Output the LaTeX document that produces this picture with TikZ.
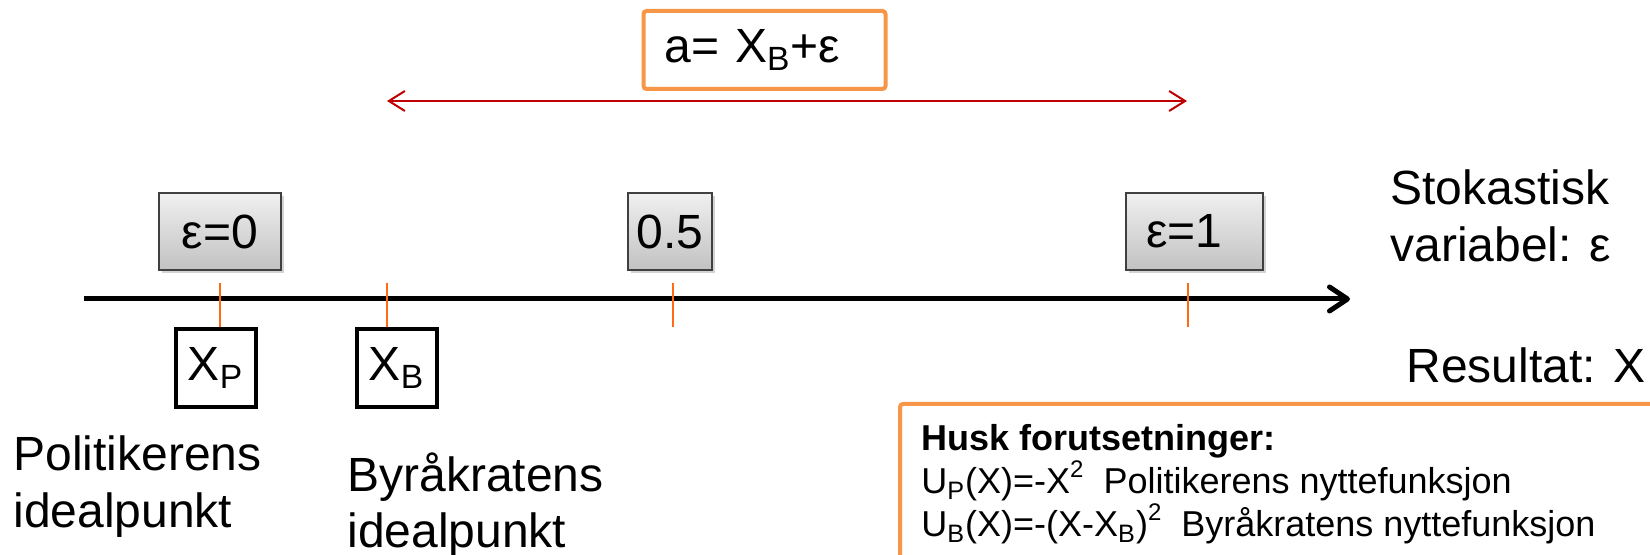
\documentclass[tikz,border=0pt]{standalone}
\usepackage{fontspec}
\setmainfont{Liberation Sans}
\usetikzlibrary{arrows.meta,shadows}
\definecolor{boxorange}{HTML}{F79646}
\definecolor{tickorange}{HTML}{FF6A13}
\definecolor{arrowred}{HTML}{C00000}
\tikzset{
  big/.style={font=\fontsize{24pt}{28.5pt}\selectfont, inner sep=0pt},
  small/.style={font=\fontsize{18pt}{21.5pt}\selectfont, inner sep=0pt},
  graybox/.style={draw=black!75, line width=0.6pt, top color=black!6, bottom color=black!24,
    drop shadow={opacity=0.35, shadow xshift=1.5pt, shadow yshift=-1.5pt},
    minimum height=38.5pt, inner sep=0pt, font=\fontsize{24pt}{28.5pt}\selectfont},
  xbox/.style={draw=black, line width=2pt, minimum width=40pt, minimum height=39pt,
    inner sep=0pt, font=\fontsize{24pt}{28.5pt}\selectfont},
  tickline/.style={draw=tickorange, line width=1pt},
}
\newcommand{\supsmall}[1]{\raisebox{0.45em}{\fontsize{12pt}{12pt}\selectfont #1}}
\begin{document}
\begin{tikzpicture}[x=0.5pt,y=-0.5pt]
\useasboundingbox (0,0) rectangle (1650,555);

% top formula box
\node[draw=boxorange, line width=2pt, rounded corners=1.5pt, minimum height=39pt,
  text width=100pt, align=left, inner xsep=10.5pt, inner ysep=0pt,
  font=\fontsize{24pt}{28.5pt}\selectfont] (formula) at (764.5,50) {a= X\textsubscript{B}+ε};

% red double arrow
\coordinate (rl) at (387,101);
\coordinate (rr) at (1187,101);
\draw[arrowred, line width=1pt, {Straight Barb[length=8pt,width=10pt]}-{Straight Barb[length=8pt,width=10pt]}] (rl) -- (rr);

% gray epsilon boxes
\node[graybox, minimum width=61pt] (e0) at (220,231.5) {ε=0};
\node[graybox, minimum width=42pt] (e05) at (670,231.5) {0.5};
\node[graybox, minimum width=68.5pt, text width=48.5pt, align=left, inner xsep=10pt] (e1) at (1194.5,231.5) {ε=1};

% axis
\coordinate (axs) at (84,299);
\coordinate (axe) at (1350,299);
\draw[line width=2.5pt, -{Straight Barb[length=9pt,width=12pt,line cap=round,line join=round]}] (axs) -- (axe);

% X boxes
\node[xbox] (xp) at (215.5,368) {X\textsubscript{P}};
\node[xbox] (xb) at (396.5,368) {X\textsubscript{B}};

% ticks
\coordinate (t0) at (220,283);
\coordinate (tb) at (387,283);
\coordinate (t05a) at (673,283);
\coordinate (t05b) at (673,327);
\coordinate (t1a) at (1188,283);
\coordinate (t1b) at (1188,327);
\draw[tickline] (t0) -- (t0 |- xp.north);
\draw[tickline] (tb) -- (tb |- xb.north);
\draw[tickline] (t05a) -- (t05b);
\draw[tickline] (t1a) -- (t1b);

% right labels
\node[big, anchor=base west] (sto1) at (1390,205) {Stokastisk};
\node[big, anchor=base west] (sto2) at (1390,262) {variabel: ε};
\node[big, anchor=base west] (res) at (1406,383) {Resultat: X};

% bottom left labels
\node[big, anchor=base west] (pol1) at (13,471) {Politikerens};
\node[big, anchor=base west] (pol2) at (13,528) {idealpunkt};
\node[big, anchor=base west] (byr1) at (347,492) {Byråkratens};
\node[big, anchor=base west] (byr2) at (347,547) {idealpunkt};

% bottom orange box (cut by the picture edge)
\begin{scope}
\clip (0,0) rectangle (1650,555);
\draw[boxorange, line width=2pt, rounded corners=1.5pt] (900,404) rectangle (1700,620);
\end{scope}
\node[small, anchor=base west] (h1) at (921,451) {\textbf{Husk forutsetninger:}};
\node[small, anchor=base west] (h2) at (921,494) {U\textsubscript{P}(X)=-X\supsmall{2}\ \ Politikerens nyttefunksjon};
\node[small, anchor=base west] (h3) at (921,537) {U\textsubscript{B}(X)=-(X-X\textsubscript{B})\supsmall{2}\ \ Byråkratens nyttefunksjon};
\end{tikzpicture}
\end{document}
